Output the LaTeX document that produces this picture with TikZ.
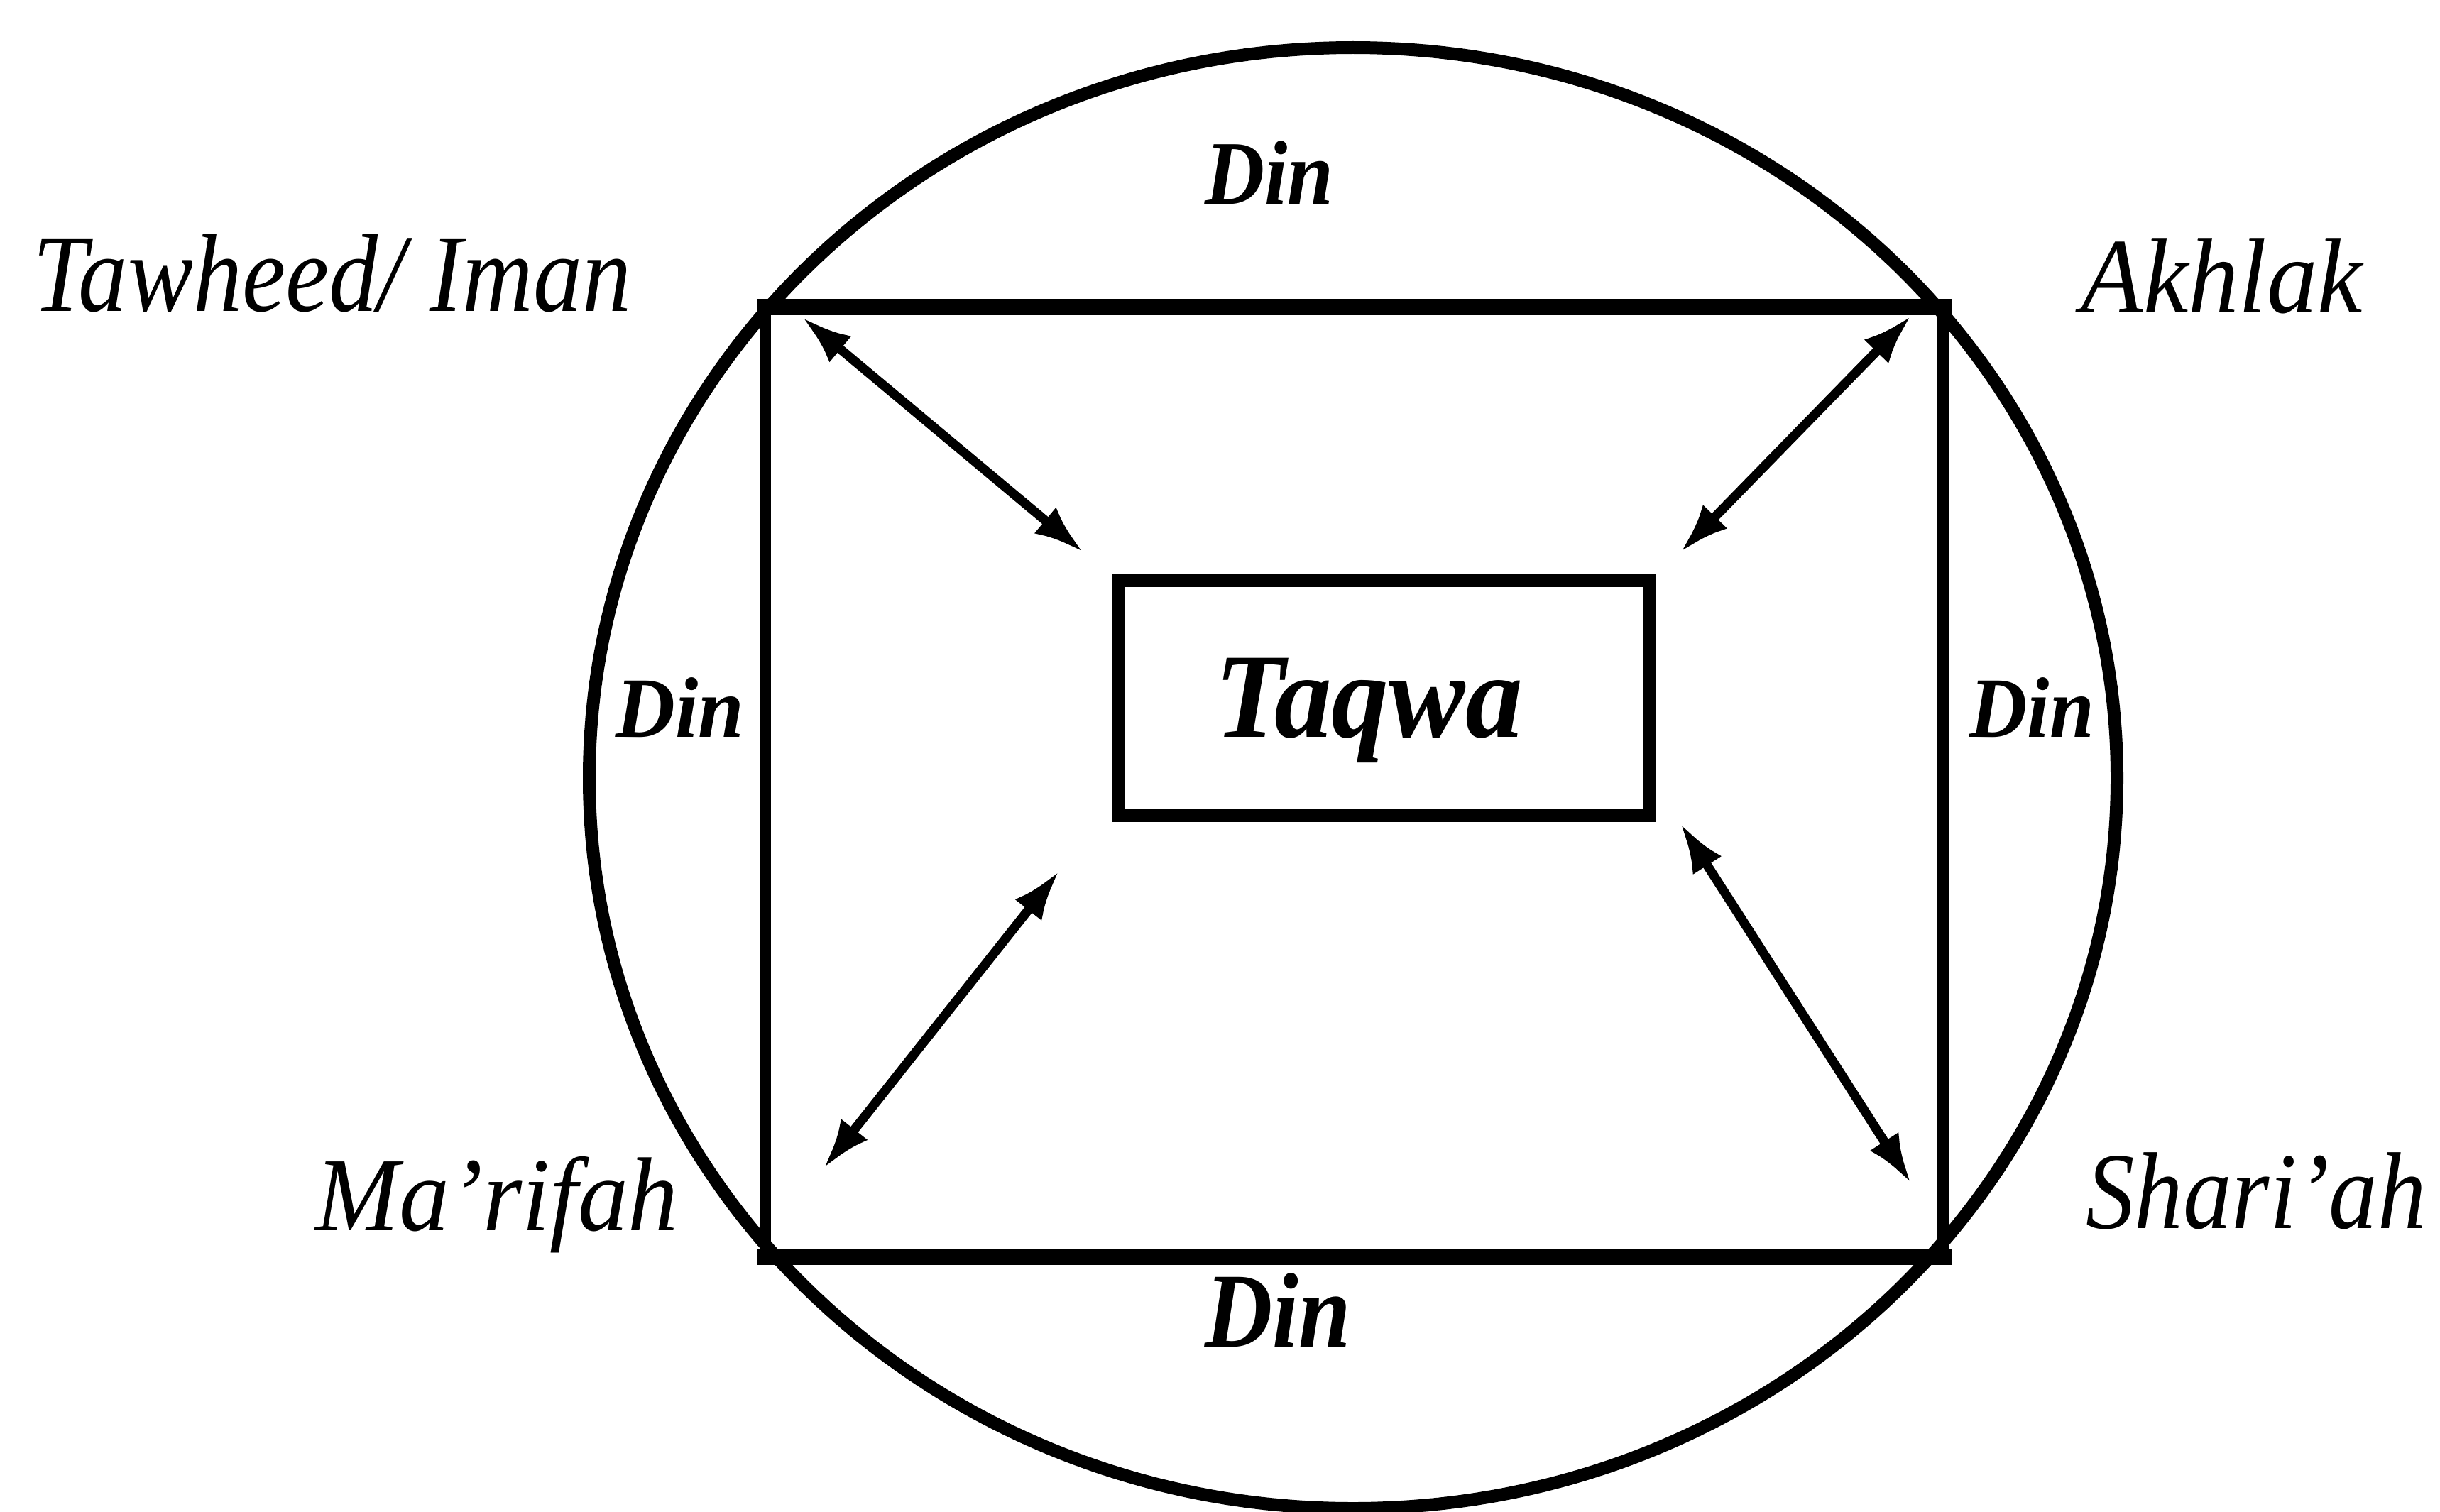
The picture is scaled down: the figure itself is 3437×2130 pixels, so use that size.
\documentclass[tikz,border=0pt]{standalone}
\usepackage{fontspec}
\setmainfont{Liberation Serif}
\usetikzlibrary{arrows.meta,shapes.geometric}
\begin{document}
\begin{tikzpicture}[x=1pt,y=-1pt,
  lbl/.style={inner sep=0pt, anchor=base, font=\itshape\fontsize{#1}{#1}\selectfont},
  dinlbl/.style={inner sep=0pt, anchor=base, font=\bfseries\itshape\fontsize{#1}{#1}\selectfont},
  link/.style={line width=13pt, {Latex[length=70pt,width=48pt]}-{Latex[length=70pt,width=48pt]}},
  shapeline/.style={draw, inner sep=0pt, outer sep=0pt}]
\useasboundingbox (0,0) rectangle (3437,2130);
\fill[white] (0,0) rectangle (3437,2130);
% outer ring
\node[shapeline, ellipse, line width=18pt, minimum width=2152pt, minimum height=2058pt] (ring) at (1906,1096) {};
% square frame
\node[shapeline, rectangle, line width=16pt, minimum width=1659pt, minimum height=1338pt] (frame) at (1907.5,1101) {};
\draw[line width=23pt, line cap=rect] (frame.north west) -- (frame.north east);
\draw[line width=23pt, line cap=rect] (frame.south west) -- (frame.south east);
% central box
\node[shapeline, rectangle, line width=19pt, minimum width=748pt, minimum height=331pt] (taqwabox) at (1949,982.5) {};
\node[dinlbl=170, xscale=0.95] (taqwa) at (1928,1038) {Taqwa};
% arrow end points
\coordinate (tlA) at (1130,447);
\coordinate (tlB) at (1526,778);
\coordinate (trA) at (2692,445);
\coordinate (trB) at (2367,778);
\coordinate (blA) at (1160,1646);
\coordinate (blB) at (1492,1227);
\coordinate (brA) at (2692,1667);
\coordinate (brB) at (2367,1160);
\draw[link] (tlA) -- (tlB);
\draw[link] (trA) -- (trB);
\draw[link] (blA) -- (blB);
\draw[link] (brA) -- (brB);
% corner labels
\node[lbl=156, xscale=0.885] (tawheed) at (468,438) {Tawheed/ Iman};
\node[lbl=151, xscale=0.945] (akhlak) at (3130,440) {Akhlak};
\node[lbl=148, xscale=0.957] (marifah) at (700,1733) {Ma’rifah};
\node[lbl=154, xscale=0.89] (shariah) at (3178,1730) {Shari’ah};
% Din labels
\node[dinlbl=128, xscale=0.91] (dintop) at (1788,287) {Din};
\node[dinlbl=121, xscale=0.96] (dinleft) at (958,1038) {Din};
\node[dinlbl=121, xscale=0.93] (dinright) at (2862,1038) {Din};
\node[dinlbl=150, xscale=0.88] (dinbottom) at (1800,1897) {Din};
\end{tikzpicture}
\end{document}
